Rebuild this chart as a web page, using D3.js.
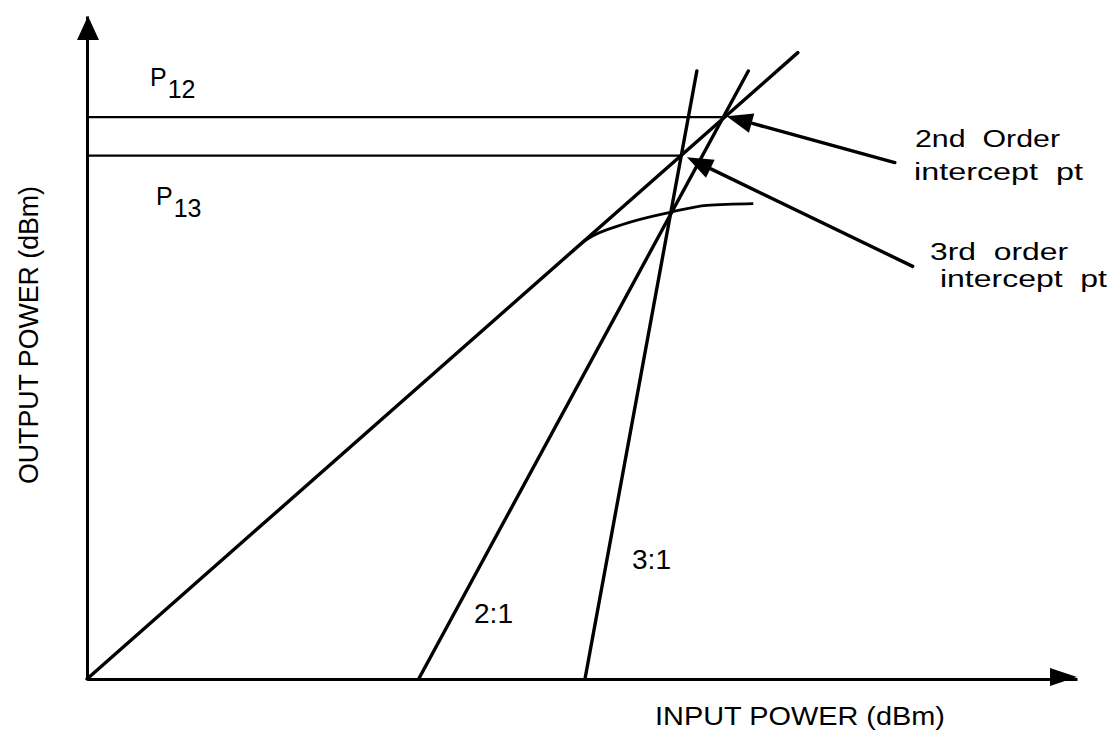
<!DOCTYPE html>
<html><head><meta charset="utf-8">
<script src="https://cdn.jsdelivr.net/npm/d3@7"></script>
<style>
body{margin:0;background:#fff}
svg{display:block}
text{font-family:"Liberation Sans",Arial,Helvetica,sans-serif;fill:#000}
</style>
</head><body>
<svg id="chart" width="1119" height="741"></svg>
<script>
// ---- data (abstract dBm units) ----
const xDomain = [0, 100];
const yDomain = [0, 76];
const fundamental = [[0, 0], [71.8, 71.8]];
const secondOrder = [[33.5, 0], [66.8, 69.7]];
const thirdOrder = [[50.3, 0], [61.6, 69.7]];
const compression = [[48.8, 48.8], [50.5, 50.4], [54.1, 52.1], [58.9, 53.5], [62.6, 54.3], [67.3, 54.5]];
const interceptNames = ["12", "13"];
const interceptLevels = [64.4, 60.0];
const annotationText = [["2nd  Order", "intercept  pt"], ["3rd  order", "intercept  pt"]];
const annotationFrom = [[81.6, 59.2], [83.4, 47.3]];
const annotationTo = [[64.6, 64.5], [60.6, 59.8]];
const slopeLabels = ["2:1", "3:1"];
const xTitle = "INPUT POWER (dBm)";
const yTitle = "OUTPUT POWER (dBm)";

// ---- drawing ----
const svg = d3.select("#chart");
const x = d3.scaleLinear().domain(xDomain).range([87, 1077]);
const y = d3.scaleLinear().domain(yDomain).range([679, 16]);
const line = d3.line().x(d => x(d[0])).y(d => y(d[1]));

// axes (no ticks)
const gx = svg.append("g").attr("transform", `translate(0,${y(0)})`)
  .call(d3.axisBottom(x).ticks(0).tickSizeOuter(0));
const gy = svg.append("g").attr("transform", `translate(${x(0)},0)`)
  .call(d3.axisLeft(y).ticks(0).tickSizeOuter(0));
[gx, gy].forEach(g => g.select(".domain").attr("stroke", "#000").attr("stroke-width", 3));

// axis arrowheads
const xe = x(xDomain[1]), ye = y(yDomain[1]);
svg.append("path").attr("d", `M${xe},${y(0) - 2} L${xe - 27},${y(0) - 11} L${xe - 27},${y(0) + 7} Z`).attr("fill", "#000");
svg.append("path").attr("d", `M${x(0) + 1},${ye} L${x(0) - 10},${ye + 24} L${x(0) + 12},${ye + 24} Z`).attr("fill", "#000");

// intercept level lines
interceptLevels.forEach(v => {
  svg.append("path").attr("d", line([[0, v], [v, v]]))
    .attr("stroke", "#000").attr("stroke-width", 2.2).attr("fill", "none");
});

// response lines
[fundamental, secondOrder, thirdOrder].forEach(d => {
  svg.append("path").attr("d", line(d)).attr("stroke", "#000")
    .attr("stroke-width", 3.4).attr("fill", "none").attr("stroke-linecap", "round");
});
svg.append("path").attr("d", line.curve(d3.curveMonotoneX)(compression))
  .attr("stroke", "#000").attr("stroke-width", 2.8).attr("fill", "none");
line.curve(d3.curveLinear);

// annotation arrows
annotationFrom.forEach((f, i) => {
  const t = annotationTo[i];
  const x1 = x(f[0]), y1 = y(f[1]), x2 = x(t[0]), y2 = y(t[1]);
  const a = Math.atan2(y2 - y1, x2 - x1);
  const L = 26, W = 10;
  const bx = x2 - L * Math.cos(a), by = y2 - L * Math.sin(a);
  svg.append("line").attr("x1", x1).attr("y1", y1).attr("x2", bx).attr("y2", by)
    .attr("stroke", "#000").attr("stroke-width", 3.4).attr("stroke-linecap", "round");
  svg.append("path").attr("d",
    `M${x2},${y2} L${bx + W * Math.sin(a)},${by - W * Math.cos(a)} L${bx - W * Math.sin(a)},${by + W * Math.cos(a)} Z`)
    .attr("fill", "#000");
});

// annotation text
const annPos = [[[915, 147], [914, 180]], [[930, 260], [940, 287]]];
const annWidths = [[145, 169], [138, 167]];
annotationText.forEach((lines, i) => {
  lines.forEach((s, j) => {
    svg.append("text").attr("x", annPos[i][j][0]).attr("y", annPos[i][j][1])
      .attr("font-size", 23).style("white-space", "pre")
      .attr("textLength", annWidths[i][j]).attr("lengthAdjust", "spacingAndGlyphs").text(s);
  });
});

// P12 / P13 labels
const pPos = [[150, 86], [156, 205]];
interceptNames.forEach((n, i) => {
  const t = svg.append("text").attr("x", pPos[i][0]).attr("y", pPos[i][1]).attr("font-size", 25);
  t.append("tspan").text("P");
  t.append("tspan").attr("dy", 12).attr("dx", 1).text(n);
});

// slope labels
const slopePos = [[474, 623], [632, 569]];
slopeLabels.forEach((s, i) => {
  svg.append("text").attr("x", slopePos[i][0]).attr("y", slopePos[i][1])
    .attr("font-size", 27).attr("textLength", 39).attr("lengthAdjust", "spacingAndGlyphs").text(s);
});

// axis titles
svg.append("text").attr("x", 655).attr("y", 725).attr("font-size", 25)
  .attr("textLength", 290).attr("lengthAdjust", "spacingAndGlyphs").text(xTitle);
svg.append("text").attr("transform", "translate(38,484) rotate(-90)").attr("font-size", 28)
  .attr("textLength", 298).attr("lengthAdjust", "spacingAndGlyphs").text(yTitle);
</script>
</body></html>
